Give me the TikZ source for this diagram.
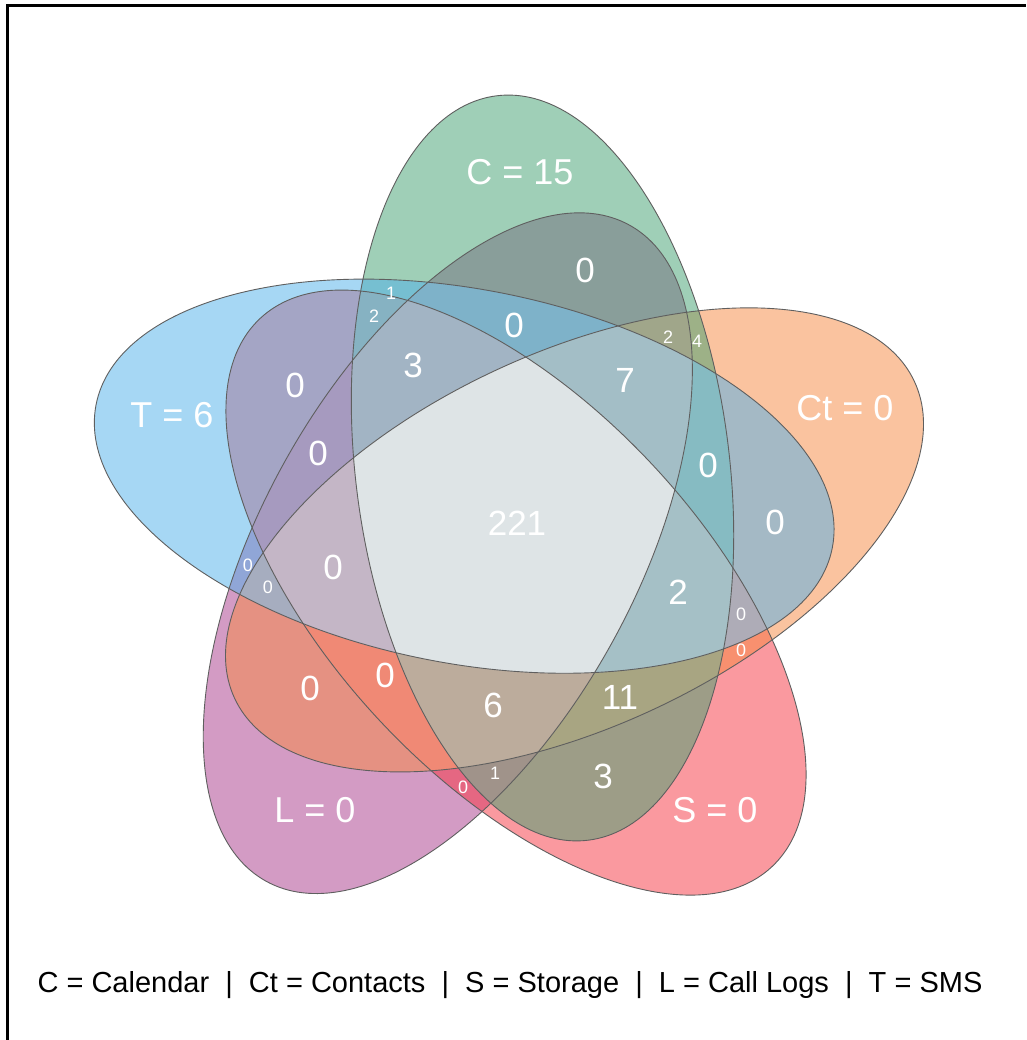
\documentclass[tikz,border=0pt]{standalone}
\usepackage{fontspec}
\setmainfont{Liberation Sans}
\definecolor{colC}{RGB}{65,161,113}
\definecolor{colT}{RGB}{79,177,235}
\definecolor{colCt}{RGB}{247,137,65}
\definecolor{colS}{RGB}{247,53,65}
\definecolor{colL}{RGB}{169,57,139}
\definecolor{rNoCt}{RGB}{162,180,196}
\definecolor{rNoS}{RGB}{163,190,198}
\definecolor{rNoL}{RGB}{165,192,198}
\definecolor{rNoC}{RGB}{196,182,198}
\definecolor{rNoT}{RGB}{188,172,156}
\definecolor{rAll}{RGB}{222,228,230}
\definecolor{edge}{RGB}{95,95,95}
\newcommand\venE{(0,0) ellipse [x radius=375, y radius=187]}
\newcommand\tripleLight[3]{\begin{scope}\clip[#1]\venE;\clip[#2]\venE;\clip[#3]\venE;
  \fill[white,fill opacity=0.13] (0,0) rectangle (1026,1040);\end{scope}}
\begin{document}
\begin{tikzpicture}[x=1pt,y=1pt,
  posC/.style={shift={(542.5,572.0)},rotate=97},
  posT/.style={shift={(464.2,563.8)},rotate=169},
  posL/.style={shift={(447.8,486.8)},rotate=241},
  posS/.style={shift={(516.0,447.4)},rotate=313},
  posCt/.style={shift={(574.5,500.1)},rotate=25},
  setfill/.style={fill opacity=0.5},
  outline/.style={draw=edge,line width=0.9pt},
  biglab/.style={text=white,font=\fontsize{36}{40}\selectfont,inner sep=0pt},
  numlab/.style={text=white,font=\fontsize{35}{40}\selectfont,inner sep=0pt},
  smalllab/.style={text=white,font=\fontsize{18}{20}\selectfont,inner sep=0pt}]
\useasboundingbox (0,0) rectangle (1026,1040);
\fill[white] (0,0) rectangle (1026,1040);
% frame (only top and left sides are visible)
\draw[line width=3pt,black] (7,0) -- (7,1034) -- (1026,1034);
% set ellipses
\fill[colL,setfill,posL] \venE;
\fill[colS,setfill,posS] \venE;
\fill[colCt,setfill,posCt] \venE;
\fill[colC,setfill,posC] \venE;
\fill[colT,setfill,posT] \venE;
% three-set regions slightly lighter
\tripleLight{posC}{posT}{posL}
\tripleLight{posC}{posT}{posS}
\tripleLight{posC}{posT}{posCt}
\tripleLight{posC}{posL}{posS}
\tripleLight{posC}{posL}{posCt}
\tripleLight{posC}{posS}{posCt}
\tripleLight{posT}{posL}{posS}
\tripleLight{posT}{posL}{posCt}
\tripleLight{posT}{posS}{posCt}
\tripleLight{posL}{posS}{posCt}
% four-set regions
\begin{scope}\clip[posT]\venE;\clip[posS]\venE;\clip[posL]\venE;\clip[posC]\venE;
  \fill[rNoCt] (0,0) rectangle (1026,1040);\end{scope}
\begin{scope}\clip[posT]\venE;\clip[posCt]\venE;\clip[posL]\venE;\clip[posC]\venE;
  \fill[rNoS] (0,0) rectangle (1026,1040);\end{scope}
\begin{scope}\clip[posT]\venE;\clip[posCt]\venE;\clip[posS]\venE;\clip[posC]\venE;
  \fill[rNoL] (0,0) rectangle (1026,1040);\end{scope}
\begin{scope}\clip[posT]\venE;\clip[posCt]\venE;\clip[posS]\venE;\clip[posL]\venE;
  \fill[rNoC] (0,0) rectangle (1026,1040);\end{scope}
\begin{scope}\clip[posC]\venE;\clip[posCt]\venE;\clip[posS]\venE;\clip[posL]\venE;
  \fill[rNoT] (0,0) rectangle (1026,1040);\end{scope}
% five-set region
\begin{scope}\clip[posT]\venE;\clip[posCt]\venE;\clip[posS]\venE;\clip[posL]\venE;\clip[posC]\venE;
  \fill[rAll] (0,0) rectangle (1026,1040);\end{scope}
% outlines
\draw[outline,posL] \venE;
\draw[outline,posS] \venE;
\draw[outline,posCt] \venE;
\draw[outline,posC] \venE;
\draw[outline,posT] \venE;
% set labels
\node[biglab] (labC)  at (520,868) {C = 15};
\node[biglab] (labT)  at (172,625) {T = 6};
\node[biglab] (labCt) at (845,632) {Ct = 0};
\node[biglab] (labL)  at (315,230) {L = 0};
\node[biglab] (labS)  at (715,230) {S = 0};
% region counts
\node[numlab] (n221) at (517,517) {221};
\node[numlab] (n01) at (585,770) {0};
\node[numlab] (n02) at (514,715) {0};
\node[smalllab] (s1a) at (391,747) {1};
\node[smalllab] (s2a) at (374,724) {2};
\node[smalllab] (s2b) at (668,703) {2};
\node[smalllab] (s4a) at (697,699) {4};
\node[numlab] (n3a) at (413,675) {3};
\node[numlab] (n7) at (625,660) {7};
\node[numlab] (n03) at (295,655) {0};
\node[numlab] (n04) at (318,587) {0};
\node[numlab] (n05) at (708,575) {0};
\node[numlab] (n06) at (775,518) {0};
\node[numlab] (n07) at (333,473) {0};
\node[smalllab] (s0a) at (248,475) {0};
\node[smalllab] (s0b) at (268,453) {0};
\node[numlab] (n2) at (678,448) {2};
\node[smalllab] (s0c) at (741,426) {0};
\node[smalllab] (s0d) at (741,390) {0};
\node[numlab] (n08) at (310,352) {0};
\node[numlab] (n09) at (385,365) {0};
\node[numlab] (n6) at (493,335) {6};
\node[numlab] (n11) at (620,343) {11};
\node[numlab] (n3b) at (603,264) {3};
\node[smalllab] (s0e) at (463,253) {0};
\node[smalllab] (s1b) at (495,267) {1};
% legend
\node[font=\fontsize{29}{34}\selectfont,inner sep=0pt] (legend) at (510,55)
  {C = Calendar\ \ |\ \ Ct = Contacts\ \ |\ \ S = Storage\ \ |\ \ L = Call Logs\ \ |\ \ T = SMS};
\end{tikzpicture}
\end{document}
